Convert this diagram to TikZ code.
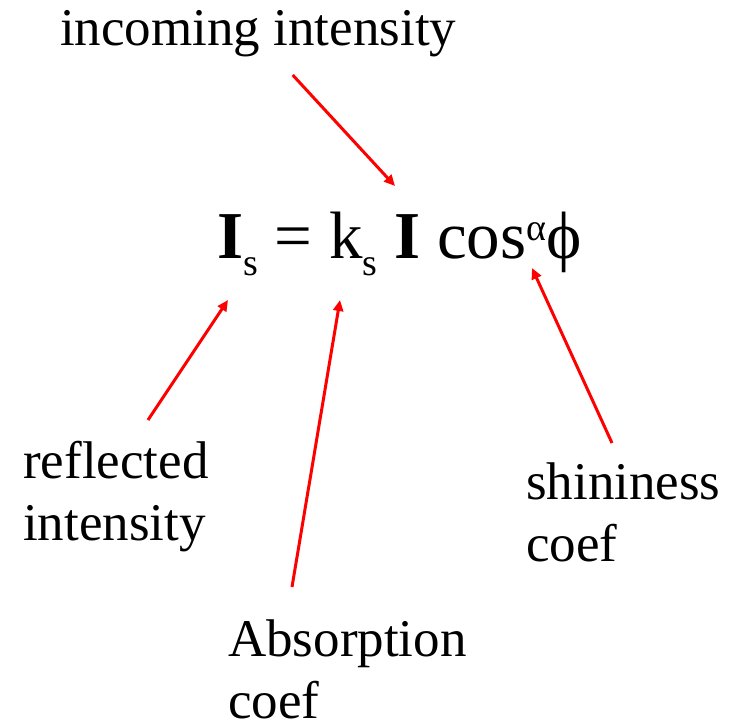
\documentclass[tikz,border=0pt]{standalone}
\usepackage{fontspec}
\setmainfont{Liberation Serif}
\usetikzlibrary{arrows.meta}
\newcommand\lblsz{\fontsize{53}{62}\selectfont}
\newcommand\eqsz{\fontsize{67}{70}\selectfont}
\newcommand\subsz{\fontsize{38}{38}\selectfont}
\begin{document}
\begin{tikzpicture}[x=1pt,y=-1pt,
  lbl/.style={inner sep=0pt, anchor=base west, align=left, font=\lblsz},
  eqn/.style={inner sep=0pt, anchor=base west, font=\eqsz},
  pointer/.style={draw=red, line width=3pt, -{Triangle[length=11pt,width=10pt]}}]
\useasboundingbox (0,0) rectangle (734,723);
\node[lbl] (inc) at (60,45) {incoming intensity};
\node[eqn] (eq) at (217,258) {\textbf{I}\raisebox{-17pt}{\subsz s} = k\raisebox{-17pt}{\subsz s} \textbf{I} cos\raisebox{18pt}{\subsz α}ϕ};
\node[lbl] (refl) at (23,540) {reflected\\intensity};
\node[lbl] (shin) at (526,561) {shininess\\coef};
\node[lbl] (abs) at (228,718) {Absorption\\coef};
\coordinate (incS) at (292.7,75);
\coordinate (incE) at (395,186);
\coordinate (reflS) at (148,420);
\coordinate (reflE) at (228,300);
\coordinate (absS) at (292,587);
\coordinate (absE) at (340,300);
\coordinate (shinS) at (612,443);
\coordinate (shinE) at (532,268);
\draw[pointer] (incS) -- (incE);
\draw[pointer] (reflS) -- (reflE);
\draw[pointer] (absS) -- (absE);
\draw[pointer] (shinS) -- (shinE);
\end{tikzpicture}
\end{document}
